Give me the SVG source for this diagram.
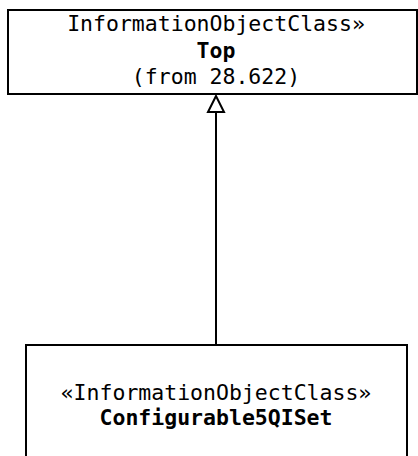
<svg xmlns="http://www.w3.org/2000/svg" width="418" height="456" viewBox="0 0 418 456">
<style>
.box{fill:#fff;stroke:#000;stroke-width:2}
.t{font-family:"DejaVu Sans Mono","Liberation Mono",monospace;font-size:21.5px;fill:#000;text-anchor:middle}
.b{font-weight:bold}
.c{stroke:#000;stroke-width:2;fill:none}
</style>
<rect width="418" height="456" fill="#fff"/>
<g id="connectors">
<line class="c" x1="216" y1="112" x2="216" y2="345"/>
<polygon points="216,96 208,112 224,112" fill="#fff" stroke="#000" stroke-width="2" stroke-linejoin="miter"/>
</g>
<g id="node-top">
<rect class="box" x="8" y="10" width="409" height="84"/>
<text class="t" x="216" y="31">InformationObjectClass»</text>
<text class="t b" x="216" y="58">Top</text>
<text class="t" x="216" y="84">(from 28.622)</text>
</g>
<g id="node-configurable5qiset">
<rect class="box" x="26" y="345" width="381" height="130"/>
<text class="t" x="216" y="400">«InformationObjectClass»</text>
<text class="t b" x="216" y="425">Configurable5QISet</text>
</g>
</svg>
